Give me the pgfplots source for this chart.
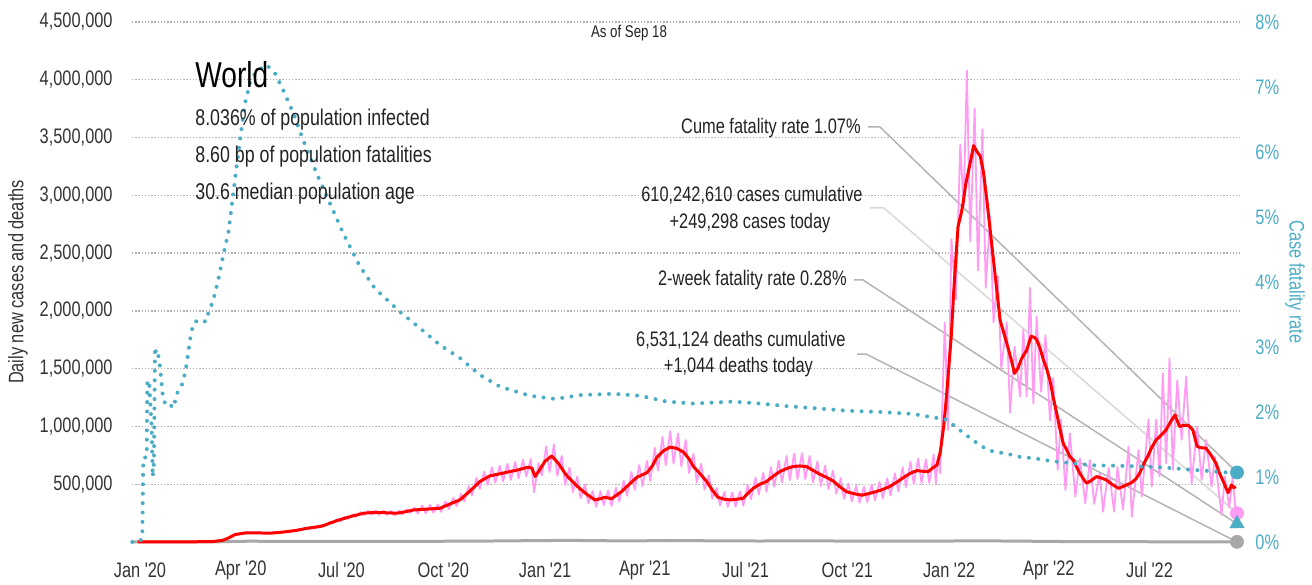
\documentclass[border=0pt]{standalone}
\usepackage{pgfplots}
\pgfplotsset{compat=1.18}
\usepackage{fontspec}
\setmainfont{Liberation Sans}[FakeStretch=0.78, Ligatures=TeXOff]
\definecolor{cfr}{HTML}{4AADC5}
\definecolor{pinkc}{HTML}{FF9CF2}
\definecolor{txt}{HTML}{222222}
\definecolor{tick}{HTML}{333333}
\definecolor{gridc}{HTML}{AFAFAF}
\definecolor{ann}{HTML}{B4B4B4}
\definecolor{annl}{HTML}{D8D8D8}
\definecolor{deaths}{HTML}{A8A8A8}
\begin{document}
\begin{tikzpicture}[font=\fontsize{10.5}{13}\selectfont, text=txt]
\useasboundingbox (-66pt,-21pt) rectangle (590pt,271pt);
% annotation leader lines
\draw[ann, line width=0.75pt] (368pt,207.5pt) -- (374pt,207.5pt) -- (552.5pt,34.75pt);
\draw[annl, line width=0.75pt] (369pt,167pt) -- (376pt,167pt) -- (552.5pt,14.4pt);
\draw[ann, line width=0.75pt] (361pt,131pt) -- (365.5pt,131pt) -- (552.5pt,9.1pt);
\draw[ann, line width=0.75pt] (362.5pt,94pt) -- (367pt,94pt) -- (552.5pt,0.06pt);

\begin{axis}[at={(0,0)}, anchor=south west, scale only axis,
  width=554pt, height=260pt, xmin=-7.2, xmax=993.7, ymin=0, ymax=4500,
  axis line style={draw=none}, major tick length=0pt, clip=false,
  ytick={500,1000,...,4500},
  yticklabels={{500,000},{1,000,000},{1,500,000},{2,000,000},{2,500,000},{3,000,000},{3,500,000},{4,000,000},{4,500,000}},
  ymajorgrids, grid style={gridc, line width=0.7pt, dash pattern=on 0.7pt off 0.9pt},
  xtick={0,91,182,274,366,456,547,639,731,821,912},
  xticklabels={Jan '20,Apr '20,Jul '20,Oct '20,Jan '21,Apr '21,Jul '21,Oct '21,Jan '22,Apr '22,Jul '22},
  xticklabel style={anchor=center, yshift=-14pt, inner sep=0pt, text=tick},
  yticklabel style={anchor=east, xshift=-9.5pt, inner sep=0pt, text=tick},
]
\addplot[deaths, line width=1.5pt] coordinates {(-7,0) (50,0.3) (70,1.5) (85,5) (100,7) (120,5.5) (150,4.5) (200,5.5) (240,5.8) (300,7) (340,10.5) (385,14) (410,12) (440,9) (480,13) (520,10) (560,8.5) (600,10) (650,7.5) (700,6.8) (760,10) (800,7) (840,3.5) (900,2.2) (960,2) (991,1.044)};
\addplot[pinkc, line width=0.9pt, line join=round] coordinates {
(-2,0) (40,1.5) (55,3) (62,3.5) (66,4.2) (69,7.3) (73,13.2) (76,18) (80,37) (83,47.5) (87,70) (90,67) (94,80) (97,74.7) (101,84) (104,75.5) (108,82.4) (111,73.8) (115,80.4) (118,73) (122,83.7) (125,78) (129,90) (132,84.5) (136,98.4) (139,92.6) (143,109) (146,104) (150,123) (153,113) (157,135.6) (160,122) (164,147) (167,136) (171,172.6) (174,159.7) (178,198) (181,180) (185,219.8) (188,199) (192,240.5) (195,215.8) (199,258.7) (202,231.6) (206,269.6) (209,236.5) (213,272.5) (216,236.6) (220,271.8) (223,235) (227,268.6) (230,232.3) (234,270) (237,239) (241,282.6) (244,251.7) (248,297) (251,246) (255,315.7) (258,249.7) (262,320.6) (265,253.6) (269,325.6) (272,260.6) (276,350) (279,286) (283,381.5) (286,310) (290,417) (293,350) (297,483) (300,403) (304,554.8) (307,460) (311,610) (314,493.8) (318,645) (321,512) (325,660.8) (328,524.8) (332,677.4) (335,537.7) (339,693) (342,550) (346,712) (349,567) (353,718.8) (356,430) (360,683) (363,576) (367,828) (370,606) (374,846) (377,573) (381,745) (384,493) (388,643.5) (391,431.6) (395,565.5) (398,379.5) (402,498) (405,334.8) (409,441) (412,304) (416,438.8) (419,318.7) (423,445.8) (426,311) (430,470) (433,350.6) (437,531.5) (440,400) (444,605.4) (447,451) (451,666.5) (454,483.6) (458,702) (461,528) (465,815.5) (468,617) (472,913) (475,664) (479,960.6) (482,677) (486,941) (489,654) (493,882.4) (496,597.6) (500,764) (503,515.8) (507,677) (510,452.6) (514,577.7) (517,373.5) (521,467.5) (524,316.5) (528,433) (531,304) (535,428) (538,306) (542,438) (545,314.6) (549,491.4) (552,371) (556,557.7) (559,410) (563,598.5) (566,434) (570,648.5) (573,478.5) (577,705) (580,512.7) (584,743) (587,534.5) (591,765) (594,544.7) (598,768) (601,542.7) (605,744.7) (608,514.6) (612,699.7) (615,483.5) (619,660.5) (622,456) (626,619) (629,418.7) (633,553) (636,374) (640,504) (643,351) (647,484.7) (650,339) (654,479) (657,345) (661,498) (664,359.7) (668,521) (671,377.6) (675,551) (678,402.5) (682,594.7) (685,437) (689,647) (692,474.5) (696,695) (699,504) (703,721.7) (706,509) (710,714) (713,512) (717,757) (719,509) (721,740) (723,595) (727,1900) (730,970) (733,2620) (737,2100) (741,3440) (744,2900) (747,4080) (750,2600) (754,3750) (757,2350) (761,3570) (764,2200) (768,2820) (771,1900) (775,2300) (778,1500) (783,1900) (786,1120) (790,1690) (795,1260) (798,1840) (801,1260) (804,2200) (807,1200) (810,1950) (814,1300) (818,1790) (822,1050) (825,1420) (829,624) (832,1060) (836,450) (840,940) (845,393) (849,725) (854,335) (858,711) (862,330) (867,595) (870,262) (875,640) (880,262) (883,650) (888,280) (893,826) (896,219) (902,797) (905,393) (911,1060) (914,479) (918,1060) (921,566) (924,1460) (927,682) (930,1590) (933,624) (937,1400) (941,884) (945,1430) (950,509) (955,1000) (959,537) (963,884) (968,479) (971,739) (977,234) (980,566) (984,300) (987,560) (990,249.298)};
\addplot[red, line width=1.5pt, line join=round] coordinates {
(-2,0) (21,0.5) (40,1.5) (50,2) (66,4) (75,15) (80,35) (86,65) (95,78) (102,80) (110,78) (117,76) (125,82) (133,90) (141,100) (151,119) (158,128) (165,139) (172,165) (178,185) (190,220) (202,249) (210,255) (220,254) (232,249) (240,262) (247,277) (260,285) (271,292) (280,329) (289,364) (298,440) (307,523) (316,572) (325,590) (334,609) (342,625) (350,647) (354,640) (357,566) (362,640) (366,700) (372,745) (378,680) (385,580) (391,520) (397,465) (404,410) (411,364) (416,375) (420,387) (426,375) (435,436) (442,500) (449,561) (458,600) (463,660) (467,734) (473,790) (479,821) (485,810) (491,777) (496,720) (500,653) (506,590) (512,523) (517,450) (522,387) (528,370) (533,364) (539,370) (545,379) (549,420) (554,465) (560,500) (566,523) (572,570) (578,609) (584,635) (590,653) (596,658) (602,653) (608,620) (614,587) (620,560) (626,529) (632,480) (638,436) (645,418) (652,405) (658,418) (665,436) (671,455) (677,479) (684,520) (691,566) (697,600) (702,618) (707,612) (712,609) (716,640) (720,667) (723,782) (726,999) (728,1200) (730,1430) (733,1800) (735,2150) (737,2450) (739,2730) (742,2850) (744,2960) (746,3100) (748,3190) (751,3330) (753,3430) (756,3380) (759,3340) (762,3200) (765,2960) (768,2700) (771,2440) (774,2180) (777,1920) (780,1820) (783,1720) (787,1580) (790,1460) (793,1500) (796,1580) (801,1660) (805,1780) (808,1770) (810,1750) (813,1680) (816,1580) (819,1500) (822,1400) (825,1250) (828,1120) (831,980) (834,855) (837,800) (840,739) (843,711) (846,650) (849,595) (852,550) (855,509) (859,530) (864,566) (868,555) (873,537) (878,500) (884,465) (888,480) (891,494) (894,505) (897,523) (900,550) (903,595) (907,680) (911,754) (914,820) (918,884) (922,920) (927,971) (931,1040) (935,1100) (937,1050) (939,999) (943,1010) (947,1010) (951,971) (953,900) (955,826) (959,815) (963,812) (967,760) (972,682) (975,600) (978,537) (981,470) (983,427) (986,494) (988,470) (990,479)};
\addplot[only marks, mark=*, mark size=3.25pt, color=pinkc] coordinates {(991,249.298)};
\addplot[only marks, mark=*, mark size=3.25pt, color=deaths] coordinates {(991,1.044)};
\end{axis}

\begin{axis}[at={(0,0)}, anchor=south west, scale only axis,
  width=554pt, height=260pt, xmin=-7.2, xmax=993.7, ymin=0, ymax=8,
  axis line style={draw=none}, major tick length=0pt, clip=false,
  xtick=\empty, ytick={0,1,...,8}, yticklabel pos=right,
  yticklabels={0\%,1\%,2\%,3\%,4\%,5\%,6\%,7\%,8\%},
  yticklabel style={anchor=west, xshift=7.5pt, inner sep=0pt, text=cfr},
]
\addplot[cfr, line width=2pt, line cap=round, dash pattern=on 0pt off 4.7pt] coordinates {
(-7,0) (-0.6,0) (2.1,0.06) (3,1.29) (6.1,1.31) (6.6,2.44) (8.4,2.49) (9,2.24) (10.6,1.75) (11.5,1.0) (12.6,1.21) (13.6,3.0) (15.1,2.85) (16.5,2.88) (18.1,2.70) (21,2.18) (24.1,2.11) (27.1,2.13) (29.5,2.06) (31.6,2.16) (34.6,2.34) (38.6,2.44) (40.7,2.60) (42.7,2.80) (45.2,3.11) (48.1,3.36) (52.7,3.42) (59.6,3.39) (61.7,3.52) (66.2,3.72) (70.7,4.03) (73.8,4.29) (76.8,4.54) (79.8,4.75) (82.8,5.16) (85.8,5.57) (90.3,6.18) (94.9,6.75) (99.4,7.06) (103.9,7.21) (109.9,7.29) (114.5,7.34) (122,7.21) (129.4,6.95) (138.5,6.60) (147.5,6.18) (159.6,5.67) (171.6,5.21) (183.6,4.75) (198.7,4.24) (212.3,3.90) (234.9,3.54) (252.9,3.29) (271,3.03) (289.1,2.83) (307.1,2.57) (325.2,2.39) (352.3,2.25) (374.9,2.20) (397.5,2.26) (427.6,2.28) (451.7,2.25) (475.8,2.16) (499.8,2.13) (535.9,2.16) (560.1,2.13) (584.2,2.09) (608.2,2.06) (638.4,2.02) (668.5,2.00) (698.6,1.97) (704.6,1.95) (722.7,1.90) (728.7,1.88) (734.7,1.80) (740.7,1.72) (749.8,1.60) (760.3,1.47) (770.8,1.39) (782.9,1.36) (794.9,1.31) (807,1.29) (825,1.24) (843.1,1.21) (861.1,1.18) (891.3,1.17) (921.4,1.15) (951.5,1.11) (981.7,1.07) (991,1.07)};
\addplot[only marks, mark=*, mark size=3.25pt, color=cfr] coordinates {(991,1.07)};
\addplot[only marks, mark=triangle*, mark size=4pt, color=cfr] coordinates {(991,0.28)};
\end{axis}

% texts
\node[anchor=base west, inner sep=0pt, font=\fontsize{18}{20}\selectfont, text=black] at (31.5pt,227.3pt) {World};
\node[anchor=base west, inner sep=0pt, font=\fontsize{11.4}{13}\selectfont] at (31.5pt,208pt) {8.036\% of population infected};
\node[anchor=base west, inner sep=0pt, font=\fontsize{11.4}{13}\selectfont] at (31.5pt,189.5pt) {8.60 bp of population fatalities};
\node[anchor=base west, inner sep=0pt, font=\fontsize{11.4}{13}\selectfont] at (31.5pt,171pt) {30.6 median population age};
\node[font=\fontsize{8.5}{10}\selectfont] at (248.5pt,254.5pt) {As of Sep 18};

\node[anchor=base east, inner sep=0pt] at (364.5pt,204.3pt) {Cume fatality rate 1.07\%};
\node[anchor=base east, inner sep=0pt] at (365.5pt,170.2pt) {610,242,610 cases cumulative};
\node[anchor=base, inner sep=0pt] at (309pt,156.8pt) {+249,298 cases today};
\node[anchor=base east, inner sep=0pt] at (357.5pt,128.2pt) {2-week fatality rate 0.28\%};
\node[anchor=base east, inner sep=0pt] at (357pt,97.7pt) {6,531,124 deaths cumulative};
\node[anchor=base, inner sep=0pt] at (303.2pt,84.75pt) {+1,044 deaths today};

\node[rotate=90, text=tick] at (-57pt,130pt) {Daily new cases and deaths};
\node[rotate=-90, text=cfr] at (581.5pt,130pt) {Case fatality rate};
\end{tikzpicture}
\end{document}
